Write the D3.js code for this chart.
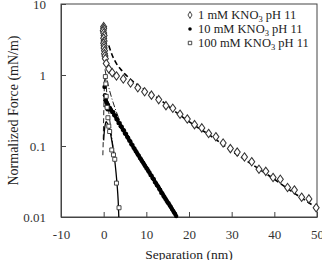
<!DOCTYPE html>
<html>
<head>
<meta charset="utf-8">
<script src="https://cdn.jsdelivr.net/npm/d3@7"></script>
<style>
  body { margin: 0; background: #fff; }
  svg text { font-family: "Liberation Serif", "Times New Roman", Times, serif; }
</style>
</head>
<body>
<div id="chart"></div>
<script>
// tick values
const xTicks = [-10, 0, 10, 20, 30, 40, 50];
const yTicks = [0.01, 0.1, 1, 10];
const yTickLabels = ["0.01", "0.1", "1", "10"];

// 1 mM KNO3 pH 11 (open diamonds)
const mM1 = [
  [0.0, 4.8], [0.0, 4.5], [-0.1, 4.2], [0.0, 3.9], [0.1, 3.6], [0.0, 3.3], [0.1, 3.0],
  [0.0, 2.8], [0.1, 2.6], [0.1, 2.4], [0.2, 2.2], [0.2, 2.0], [0.3, 1.85], [0.4, 1.7],
  [0.6, 1.45], [1.2, 1.22], [2.0, 1.08], [3.0, 0.97], [4.6, 0.88], [6.3, 0.77], [8.0, 0.66],
  [9.6, 0.58], [11.2, 0.52], [12.9, 0.45], [14.6, 0.37], [16.2, 0.34], [17.9, 0.28],
  [19.6, 0.24], [21.3, 0.20], [23.0, 0.18], [24.6, 0.15], [26.3, 0.135], [28.0, 0.11],
  [29.7, 0.092], [31.3, 0.082], [33.0, 0.070], [34.7, 0.060], [36.4, 0.047], [38.0, 0.044],
  [39.7, 0.036], [41.4, 0.034], [43.1, 0.026], [44.7, 0.024], [46.4, 0.019], [48.1, 0.018],
  [49.8, 0.0135]
];

// 10 mM KNO3 pH 11 (filled circles)
const mM10 = [
  [0.2, 0.68], [0.3, 0.52], [0.4, 0.44], [0.6, 0.42], [0.7, 0.36], [0.8, 0.40], [0.9, 0.33],
  [1.0, 0.38], [1.25, 0.35], [1.5, 0.34], [1.75, 0.32], [2.0, 0.30], [2.25, 0.30], [2.5, 0.27],
  [2.75, 0.27], [3.0, 0.24], [3.25, 0.235], [3.5, 0.21], [3.75, 0.21], [4.0, 0.19],
  [4.25, 0.185], [4.5, 0.17], [4.75, 0.165], [5.0, 0.15], [5.25, 0.148], [5.5, 0.135],
  [5.75, 0.13], [6.0, 0.12], [6.25, 0.116], [6.5, 0.106], [6.75, 0.103], [7.0, 0.095],
  [7.25, 0.091], [7.5, 0.085], [7.75, 0.081], [8.0, 0.076], [8.25, 0.073], [8.5, 0.068],
  [8.75, 0.065], [9.0, 0.061], [9.25, 0.058], [9.5, 0.055], [9.75, 0.052], [10.0, 0.049],
  [10.25, 0.047], [10.5, 0.044], [10.75, 0.042], [11.0, 0.039], [11.25, 0.038], [11.5, 0.035],
  [11.75, 0.034], [12.0, 0.031], [12.25, 0.030], [12.5, 0.028], [12.75, 0.027], [13.0, 0.025],
  [13.25, 0.024], [13.5, 0.022], [13.75, 0.0215], [14.0, 0.020], [14.25, 0.019], [14.5, 0.018],
  [14.75, 0.017], [15.0, 0.016], [15.25, 0.0155], [15.5, 0.0145], [15.75, 0.0138], [16.0, 0.013],
  [16.25, 0.0123], [16.5, 0.0116], [16.75, 0.011], [17.0, 0.0103]
];

// 100 mM KNO3 pH 11 (open squares)
const mM100 = [
  [0.4, 0.95], [0.5, 0.75], [0.6, 0.5], [0.8, 0.35], [1.0, 0.25], [1.2, 0.19], [1.4, 0.16],
  [1.9, 0.088], [2.3, 0.075], [2.6, 0.065], [3.0, 0.030], [3.6, 0.0135]
];

// theory curves
const fit1 = [
  [1.2, 2.6], [2, 1.9], [3, 1.45], [4, 1.2], [5, 1.03], [6, 0.9], [8, 0.72], [10, 0.6],
  [13, 0.46], [16, 0.33], [20, 0.22], [25, 0.14], [30, 0.085], [35, 0.054], [40, 0.034],
  [45, 0.021], [50, 0.0134]
];
const fit10 = [
  [0.3, 1.2], [1, 0.75], [2, 0.45], [3, 0.3], [4, 0.21], [5, 0.16], [6, 0.12], [7, 0.095]
];
const fit10line = [
  [1.0, 0.38], [3.0, 0.24], [6.0, 0.12], [10.0, 0.05], [14.0, 0.021], [17.0, 0.0105]
];
const fit100a = [
  [0.2, 0.9], [0.1, 0.5], [0.0, 0.25], [-0.1, 0.12], [-0.2, 0.07]
];
const fit100b = [
  [0.4, 1.0], [0.8, 0.5], [1.2, 0.3], [1.6, 0.19], [2.0, 0.12], [2.4, 0.08]
];
const fit100c = [
  [0.0, 0.12], [0.3, 0.19], [0.6, 0.22], [1.0, 0.2], [1.5, 0.16], [2.0, 0.11], [2.5, 0.07],
  [2.9, 0.042], [3.2, 0.026], [3.4, 0.017], [3.5, 0.012], [3.55, 0.01]
];

const legendLabels = ["1 mM KNO", "10 mM KNO", "100 mM KNO"];

const W = 322, H = 260;
const margin = {top: 4, right: 5, bottom: 43, left: 61};
const serif = "Liberation Serif, Times New Roman, serif";

const svg = d3.select("#chart").append("svg")
  .attr("width", W)
  .attr("height", H);

const x = d3.scaleLinear().domain([-10, 50]).range([margin.left, W - margin.right]);
const y = d3.scaleLog().domain([0.01, 10]).range([H - margin.bottom, margin.top]);

// frame
svg.append("rect")
  .attr("x", x(-10)).attr("y", y(10))
  .attr("width", x(50) - x(-10)).attr("height", y(0.01) - y(10))
  .attr("fill", "none").attr("stroke", "#444").attr("stroke-width", 1);

// axes
const xAxis = svg.append("g")
  .attr("transform", `translate(0,${y(0.01)})`)
  .call(d3.axisBottom(x).tickValues(xTicks).tickFormat(d => d < 0 ? "-" + Math.abs(d) : d)
    .tickSizeInner(-5).tickSizeOuter(0).tickPadding(13));
const yAxis = svg.append("g")
  .attr("transform", `translate(${x(-10)},0)`)
  .call(d3.axisLeft(y).tickValues(yTicks).tickFormat((d, i) => yTickLabels[i])
    .tickSizeInner(-5).tickSizeOuter(0).tickPadding(15));

[xAxis, yAxis].forEach(g => {
  g.attr("font-family", serif);
  g.select(".domain").attr("stroke", "#444");
  g.selectAll(".tick line").attr("stroke", "#444");
  g.selectAll(".tick text").attr("font-size", 13).attr("fill", "#333");
});

// axis titles
svg.append("text")
  .attr("x", (x(-10) + x(50)) / 2).attr("y", 259)
  .attr("text-anchor", "middle").attr("font-size", 13.5).attr("fill", "#222")
  .text("Separation (nm)");
svg.append("text")
  .attr("transform", `translate(18,${(y(10) + y(0.01)) / 2}) rotate(-90)`)
  .attr("text-anchor", "middle").attr("font-size", 14).attr("fill", "#222")
  .text("Normalized Force (mN/m)");

const line = d3.line().x(d => x(d[0])).y(d => y(d[1])).curve(d3.curveMonotoneX);
const lineY = d3.line().x(d => x(d[0])).y(d => y(d[1])).curve(d3.curveCatmullRom);

const plot = svg.append("g");

// theory lines
plot.append("path").datum(fit10line).attr("d", line)
  .attr("fill", "none").attr("stroke", "#000").attr("stroke-width", 2.5);
plot.append("path").datum(fit1).attr("d", line)
  .attr("fill", "none").attr("stroke", "#000").attr("stroke-width", 1.6)
  .attr("stroke-dasharray", "5,3");
plot.append("path").datum(fit10).attr("d", line)
  .attr("fill", "none").attr("stroke", "#222").attr("stroke-width", 1)
  .attr("stroke-dasharray", "6,2,1,2");
plot.append("path").datum(fit100a).attr("d", lineY)
  .attr("fill", "none").attr("stroke", "#222").attr("stroke-width", 1)
  .attr("stroke-dasharray", "5,3");
plot.append("path").datum(fit100b).attr("d", line)
  .attr("fill", "none").attr("stroke", "#222").attr("stroke-width", 1)
  .attr("stroke-dasharray", "6,2,1,2");
plot.append("path").datum(fit100c).attr("d", lineY)
  .attr("fill", "none").attr("stroke", "#000").attr("stroke-width", 1.3);

// markers
const diamond = d3.symbol().type(d3.symbolDiamond).size(20);
const square = d3.symbol().type(d3.symbolSquare).size(16);

plot.selectAll(".m1").data(mM1).join("path")
  .attr("class", "m1")
  .attr("transform", d => `translate(${x(d[0])},${y(d[1])}) scale(1.25,1)`)
  .attr("d", diamond)
  .attr("fill", "#fff").attr("stroke", "#333").attr("stroke-width", 0.9);

plot.selectAll(".m10").data(mM10).join("circle")
  .attr("class", "m10")
  .attr("cx", d => x(d[0])).attr("cy", d => y(d[1])).attr("r", 2.2)
  .attr("fill", "#000");

plot.selectAll(".m100").data(mM100).join("path")
  .attr("class", "m100")
  .attr("transform", d => `translate(${x(d[0])},${y(d[1])})`)
  .attr("d", square)
  .attr("fill", "#fff").attr("stroke", "#333").attr("stroke-width", 0.9);

// legend
const legend = svg.append("g");
legendLabels.forEach((lab, i) => {
  const ly = 15 + i * 14;
  const mk = legend.append("path").attr("transform", `translate(190,${ly})`);
  if (i === 0) mk.attr("d", d3.symbol().type(d3.symbolDiamond).size(14))
    .attr("fill", "#fff").attr("stroke", "#333").attr("stroke-width", 0.9);
  if (i === 1) mk.attr("d", d3.symbol().type(d3.symbolCircle).size(10)).attr("fill", "#000");
  if (i === 2) mk.attr("d", d3.symbol().type(d3.symbolSquare).size(12))
    .attr("fill", "#fff").attr("stroke", "#333").attr("stroke-width", 0.9);
  const t = legend.append("text")
    .attr("x", 198).attr("y", ly + 4)
    .attr("font-size", 12.5).attr("fill", "#222");
  t.append("tspan").text(lab);
  t.append("tspan").attr("font-size", 8.5).attr("dy", 3).text("3");
  t.append("tspan").attr("dy", -3).text(" pH 11");
});
</script>
</body>
</html>
